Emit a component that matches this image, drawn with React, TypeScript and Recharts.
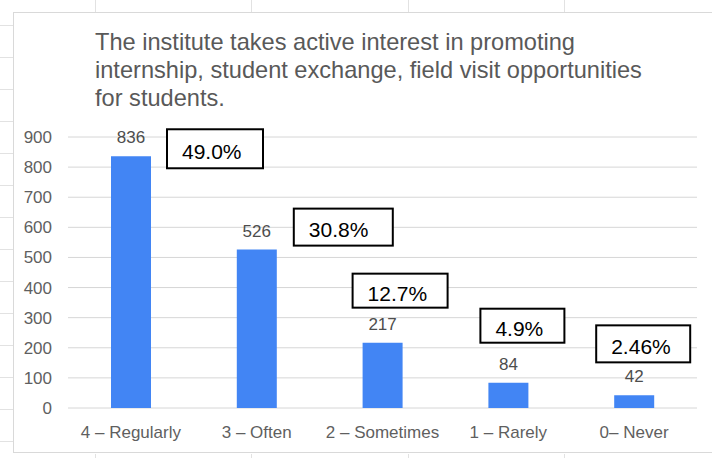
import React from 'react';
import { BarChart, Bar, XAxis, YAxis, CartesianGrid, LabelList } from 'recharts';

const categories = ['4 – Regularly', '3 – Often', '2 – Sometimes', '1 – Rarely', '0– Never'];
const counts = [836, 526, 217, 84, 42];
const shares = ['49.0%', '30.8%', '12.7%', '4.9%', '2.46%'];
const yTicks = [0, 100, 200, 300, 400, 500, 600, 700, 800, 900];

const titleLines = [
    'The institute takes active interest in promoting',
    'internship, student exchange, field visit opportunities',
    'for students.',
];

// where each boxed percentage sits, relative to the top-centre of its bar
const calloutBoxes = [
    { dx: 36, dy: -27, w: 96, h: 39 },
    { dx: 37, dy: -41, w: 99, h: 37 },
    { dx: -30, dy: -69, w: 95, h: 34 },
    { dx: -28, dy: -74, w: 84, h: 34 },
    { dx: -38, dy: -70, w: 94, h: 37 },
];

const data = categories.map((name, i) => ({
    name,
    count: counts[i],
    share: shares[i],
}));

const FONT = '"Liberation Sans", Arial, sans-serif';

const ShareBox = (props: any) => {
    const { x, y, width, value, index } = props;
    const box = calloutBoxes[index];
    const left = x + width / 2 + box.dx;
    const top = y + box.dy;
    return (
        <g>
            <rect x={left} y={top} width={box.w} height={box.h} fill="#fff" stroke="#000" strokeWidth={2} />
            <text x={left + 15} y={top + box.h / 2 + 10} fontSize={21} fontFamily={FONT} fill="#000">
                {value}
            </text>
        </g>
    );
};

const SheetLines = () => {
    const rows = [];
    for (let y = 25; y < 458; y += 32) {
        rows.push(<div key={'r' + y} style={{ position: 'absolute', left: 0, top: y, width: 13, height: 1, background: '#e2e2e2' }} />);
    }
    const cols = [95, 251, 408, 564];
    return (
        <>
            {rows}
            {cols.map((x) => (
                <React.Fragment key={'c' + x}>
                    <div style={{ position: 'absolute', left: x, top: 0, width: 1, height: 12, background: '#e2e2e2' }} />
                    <div style={{ position: 'absolute', left: x, top: 454, width: 1, height: 4, background: '#e2e2e2' }} />
                </React.Fragment>
            ))}
        </>
    );
};

export default function App() {
    return (
        <div style={{ position: 'relative', width: 712, height: 458, background: '#fff', overflow: 'hidden', fontFamily: FONT }}>
            <style>{'body{margin:0}'}</style>
            <SheetLines />
            <div
                style={{
                    position: 'absolute',
                    left: 13,
                    top: 12,
                    width: 720,
                    height: 441,
                    borderLeft: '1px solid #d9d9d9',
                    borderTop: '1px solid #d9d9d9',
                    borderBottom: '1px solid #d9d9d9',
                    boxSizing: 'border-box',
                }}
            />
            <div
                style={{
                    position: 'absolute',
                    left: 95,
                    top: 28,
                    fontSize: 23.6,
                    lineHeight: '28.2px',
                    color: '#595959',
                    whiteSpace: 'nowrap',
                }}
            >
                {titleLines.map((line) => (
                    <div key={line}>{line}</div>
                ))}
            </div>
            <div style={{ position: 'absolute', left: 0, top: 0 }}>
                <BarChart
                    width={712}
                    height={458}
                    data={data}
                    margin={{ top: 137, right: 15, left: 0, bottom: 20 }}
                    barSize={40}
                >
                    <CartesianGrid vertical={false} stroke="#d6d6d6" />
                    <XAxis
                        dataKey="name"
                        axisLine={false}
                        tickLine={false}
                        tickMargin={12}
                        height={30}
                        interval={0}
                        tick={{ fill: '#5f5f5f', fontSize: 17, fontFamily: FONT }}
                    />
                    <YAxis
                        domain={[0, 900]}
                        ticks={yTicks}
                        axisLine={false}
                        tickLine={false}
                        tickMargin={10}
                        width={68}
                        tick={{ fill: '#5f5f5f', fontSize: 17, fontFamily: FONT }}
                    />
                    <Bar dataKey="count" fill="#4285f4" isAnimationActive={false}>
                        <LabelList dataKey="count" position="top" offset={13} fill="#4d4d4d" fontSize={17} fontFamily={FONT} />
                        <LabelList dataKey="share" content={ShareBox} />
                    </Bar>
                </BarChart>
            </div>
        </div>
    );
}
